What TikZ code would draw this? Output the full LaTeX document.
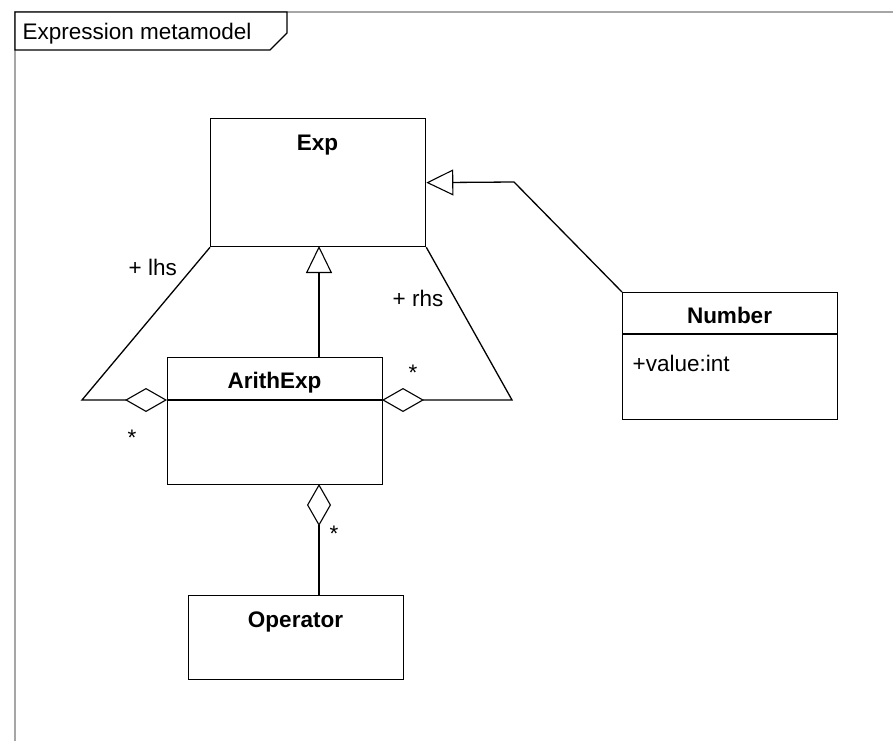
\documentclass[tikz,border=0pt]{standalone}
\usepackage{fontspec}
\setmainfont{Liberation Sans}
\usetikzlibrary{arrows.meta}
\begin{document}
\begin{tikzpicture}[x=1pt,y=-1pt, line width=1.3pt,
  cls/.style={draw, anchor=north west, inner sep=0pt},
  ttl/.style={font=\bfseries\fontsize{22.5}{26}\selectfont, anchor=base, inner sep=0pt},
  lbl/.style={font=\fontsize{22.5}{26}\selectfont, inner sep=0pt},
  gen/.style={-{Triangle[open,length=27pt,width=26pt,line width=1.1pt]}},
  agg/.style={{Diamond[open,length=42pt,width=24pt,line width=1.1pt]}-},
]
\useasboundingbox (0,0) rectangle (893,741);
% frame
\draw[gray!70] (15,741) -- (15,12) -- (893,12);
\draw[fill=white] (15,12) -- (287,12) -- (287,33) -- (270,50) -- (15,50) -- cycle;
\node[lbl, anchor=base west] (frametitle) at (22,40) {Expression metamodel};
% classes
\node[cls, minimum width=215pt, minimum height=128pt] (exp) at (210,118) {};
\node[ttl] (expt) at (317.5,150) {Exp};
\node[cls, minimum width=215pt, minimum height=127pt] (arith) at (167,357) {};
\coordinate (arw) at (167,400);
\coordinate (are) at (382,400);
\draw (arw) -- (are);
\node[ttl] (aritht) at (274.5,388) {ArithExp};
\node[cls, minimum width=215pt, minimum height=127pt] (num) at (622,292) {};
\draw (622,334) -- (837,334);
\node[ttl] (numt) at (729.5,323) {Number};
\node[lbl, anchor=base west] (numattr) at (632,371) {+value:int};
\node[cls, minimum width=215pt, minimum height=84pt] (op) at (188,595) {};
\node[ttl] (opt) at (295.5,627) {Operator};
% connectors
\coordinate (lb) at (82,400);
\draw[agg] (arw) -- (lb) -- (exp.south west);
\coordinate (rb) at (512,400);
\draw[agg] (are) -- (rb) -- (exp.south east);
\coordinate (ab) at (319,484);
\coordinate (ot) at (319,595);
\draw[agg] (ab) -- (ot);
\coordinate (at) at (319,357);
\coordinate (eb) at (319,246);
\draw[gen] (at) -- (eb);
\coordinate (nb) at (514,182);
\draw[gen] (num.north west) -- (nb) -- (exp.east);
% labels
\node[lbl, anchor=base west] (lhs) at (128,275) {+ lhs};
\node[lbl, anchor=base] (lhsm) at (132,445) {*};
\node[lbl, anchor=base west] (rhs) at (392,306) {+ rhs};
\node[lbl, anchor=base] (rhsm) at (413,380) {*};
\node[lbl, anchor=base] (opm) at (334,541) {*};
\end{tikzpicture}
\end{document}
